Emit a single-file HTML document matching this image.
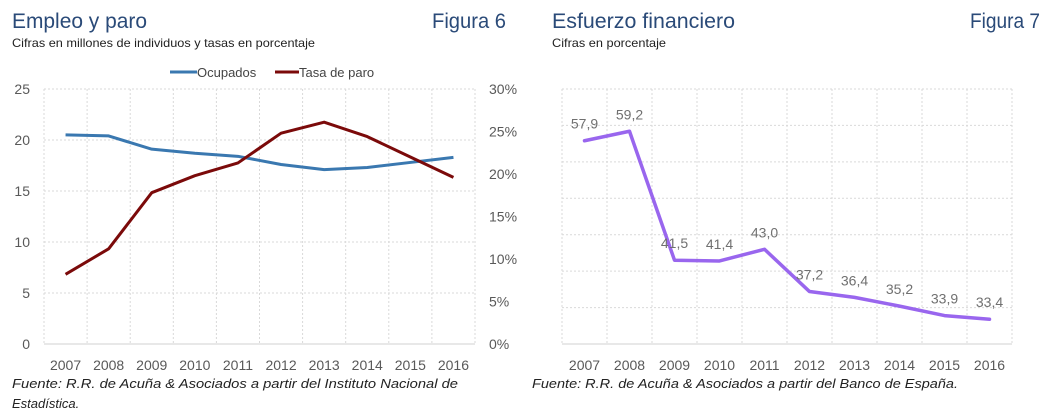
<!DOCTYPE html>
<html><head><meta charset="utf-8"><style>
body{margin:0;background:#fff}
svg{display:block}
text{font-family:"Liberation Sans",sans-serif}
</style></head><body>
<svg id="s" width="1049" height="419" xmlns="http://www.w3.org/2000/svg">
<g>
<text x="12" y="28" font-size="21" fill="#2a4a78" textLength="135" lengthAdjust="spacingAndGlyphs">Empleo y paro</text>
<text x="432" y="28" font-size="21" fill="#2a4a78" textLength="74" lengthAdjust="spacingAndGlyphs">Figura 6</text>
<text x="12" y="47" font-size="12" fill="#222" textLength="303" lengthAdjust="spacingAndGlyphs">Cifras en millones de individuos y tasas en porcentaje</text>
</g>
<g>
<text x="552" y="28" font-size="21" fill="#2a4a78" textLength="183" lengthAdjust="spacingAndGlyphs">Esfuerzo financiero</text>
<text x="970" y="28" font-size="21" fill="#2a4a78" textLength="70" lengthAdjust="spacingAndGlyphs">Figura 7</text>
<text x="552" y="47" font-size="12" fill="#222" textLength="114" lengthAdjust="spacingAndGlyphs">Cifras en porcentaje</text>
</g>
<g>
<line x1="170" y1="72" x2="197" y2="72" stroke="#3a78b0" stroke-width="3"/>
<text x="197" y="77" font-size="13" fill="#444">Ocupados</text>
<line x1="275" y1="72" x2="299" y2="72" stroke="#7b0a0a" stroke-width="3"/>
<text x="299" y="77" font-size="13" fill="#444">Tasa de paro</text>
</g>
<text x="12" y="388" font-size="13" font-style="italic" fill="#222" textLength="446" lengthAdjust="spacingAndGlyphs">Fuente: R.R. de Acuña &amp; Asociados a partir del Instituto Nacional de</text>
<text x="12" y="408" font-size="13" font-style="italic" fill="#222">Estadística.</text>
<text x="532" y="388" font-size="13" font-style="italic" fill="#222" textLength="426" lengthAdjust="spacingAndGlyphs">Fuente: R.R. de Acuña &amp; Asociados a partir del Banco de España.</text>
<g id="c1"></g>
<g id="c2"></g>
</svg>
<script>
const years = ["2007","2008","2009","2010","2011","2012","2013","2014","2015","2016"];
const ocupados = [20.5,20.4,19.1,18.7,18.4,17.6,17.1,17.3,17.8,18.3];
const tasaParo = [8.2,11.2,17.8,19.8,21.3,24.8,26.1,24.4,22.0,19.6];
const leftTicks = [0,5,10,15,20,25];
const rightTicks = [0,5,10,15,20,25,30];
const esfuerzo = [57.9,59.2,41.5,41.4,43.0,37.2,36.4,35.2,33.9,33.4];
const esfuerzoLabels = ["57,9","59,2","41,5","41,4","43,0","37,2","36,4","35,2","33,9","33,4"];
const effortTicks = [30,35,40,45,50,55,60,65];

const NS="http://www.w3.org/2000/svg";
function mk(parent,tag,attrs){const e=document.createElementNS(NS,tag);for(const k in attrs)e.setAttribute(k,attrs[k]);parent.appendChild(e);return e;}

// Chart 1
(function(){
const g=document.getElementById('c1');
const L=44,R=475,T=89,B=344,n=years.length,bw=(R-L)/n;
const x=i=>L+bw*(i+0.5);
const yl=v=>B-(v/25)*(B-T);
const yr=v=>B-(v/30)*(B-T);
for(let i=0;i<=n;i++){const l=mk(g,'line',{x1:L+bw*i,x2:L+bw*i,y1:T,y2:B,stroke:'#d9d9d9','stroke-dasharray':'2,2'});

}
leftTicks.forEach(t=>{const l=mk(g,'line',{x1:L,x2:R,y1:yl(t),y2:yl(t),stroke:t===0?'#d0d0d0':'#d9d9d9','stroke-dasharray':t===0?'':'2,2'});


const tx=mk(g,'text',{x:30,y:yl(t)+5,'font-size':14,fill:'#595959','text-anchor':'end'});tx.textContent=t;

});
rightTicks.forEach(t=>{const tx=mk(g,'text',{x:489,y:yr(t)+5,'font-size':14,fill:'#595959'});tx.textContent=t+'%';

});
years.forEach((yv,i)=>{const tx=mk(g,'text',{x:x(i),y:370,'font-size':14,fill:'#595959','text-anchor':'middle'});tx.textContent=yv;

});
const p1=mk(g,'polyline',{points:ocupados.map((v,i)=>x(i)+','+yl(v)).join(' '),fill:'none',stroke:'#3a78b0','stroke-width':3,'stroke-linejoin':'round'});


const p2=mk(g,'polyline',{points:tasaParo.map((v,i)=>x(i)+','+yr(v)).join(' '),fill:'none',stroke:'#7b0a0a','stroke-width':3,'stroke-linejoin':'round'});


})();

// Chart 2
(function(){
const g=document.getElementById('c2');
const L=562,R=1012,T=89,B=344,n=years.length,bw=(R-L)/n;
const x=i=>L+bw*(i+0.5);
const y=v=>B-(v-30)/35*(B-T);
for(let i=0;i<=n;i++){const l=mk(g,'line',{x1:L+bw*i,x2:L+bw*i,y1:T,y2:B,stroke:'#d9d9d9','stroke-dasharray':'2,2'});

}
effortTicks.forEach(t=>{const l=mk(g,'line',{x1:L,x2:R,y1:y(t),y2:y(t),stroke:t===30?'#d0d0d0':'#d9d9d9','stroke-dasharray':t===30?'':'2,2'});

});
years.forEach((yv,i)=>{const tx=mk(g,'text',{x:x(i),y:370,'font-size':14,fill:'#595959','text-anchor':'middle'});tx.textContent=yv;

});
const p=mk(g,'polyline',{points:esfuerzo.map((v,i)=>x(i)+','+y(v)).join(' '),fill:'none',stroke:'#9966ee','stroke-width':3.5,'stroke-linejoin':'round','stroke-linecap':'round'});


esfuerzo.forEach((v,i)=>{const tx=mk(g,'text',{x:x(i),y:y(v)-12,'font-size':14,fill:'#707070','text-anchor':'middle'});tx.textContent=esfuerzoLabels[i];

});
})();
</script>
</body></html>
